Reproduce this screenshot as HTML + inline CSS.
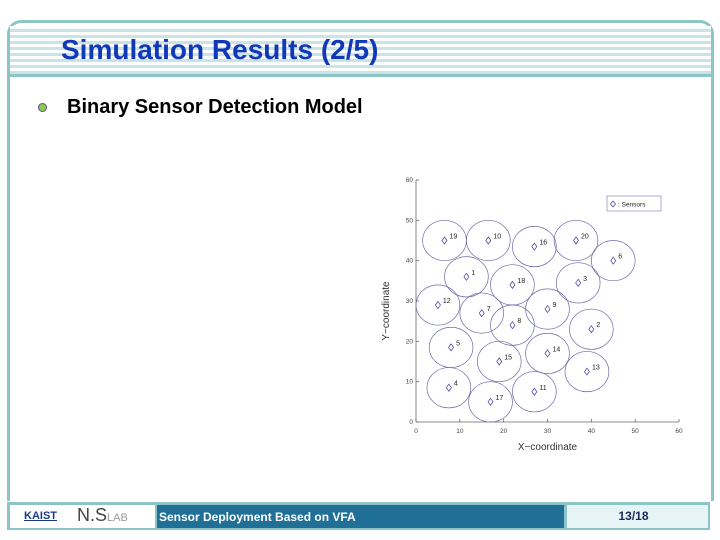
<!DOCTYPE html>
<html><head><meta charset="utf-8"><style>
body{margin:0;width:720px;height:540px;background:#fff;position:relative;overflow:hidden;font-family:"Liberation Sans",sans-serif}
.abs{position:absolute}
</style></head><body>
<div class="abs" style="left:7px;top:20px;width:701px;height:478px;border:3px solid #8cc4c8;border-bottom:none;border-radius:14px 14px 0 0"></div>
<div class="abs" style="left:10px;top:26px;width:701px;height:48px;background:repeating-linear-gradient(#fff 0 3px,#c9e4e6 3px 6px)"></div>
<div class="abs" style="left:10px;top:74px;width:701px;height:3px;background:#8cc4c8"></div>
<div class="abs" style="left:61px;top:34px;font-size:28px;font-weight:bold;color:#1038b8">Simulation Results (2/5)</div>
<div class="abs" style="left:38px;top:103px;width:7px;height:7px;border-radius:50%;background:#8ccc50;border:1px solid #557"></div>
<div class="abs" style="left:67px;top:96px;font-size:20px;font-weight:bold;color:#000">Binary Sensor Detection Model</div>

<svg class="abs" style="left:0;top:0" width="720" height="540">
<g id="chart" font-family="Liberation Sans, sans-serif"></g>
</svg>

<div class="abs" style="left:7px;top:502px;width:703px;height:28px;background:#8cc4c8"></div>
<div class="abs" style="left:10px;top:505px;width:145px;height:23px;background:#fff"></div>
<div class="abs" style="left:24px;top:510px;font-size:11px;font-weight:bold;color:#1a3a8a;text-decoration:underline">KAIST</div>
<div class="abs" style="left:77px;top:505px;font-size:18px;color:#444">N.S<span style="font-size:11px;color:#999">LAB</span></div>
<div class="abs" style="left:157px;top:505px;width:407px;height:23px;background:#1f6f96;color:#fff;font-size:12px;font-weight:bold;line-height:25px;padding-left:2px;box-sizing:border-box">Sensor Deployment Based on VFA</div>
<div class="abs" style="left:567px;top:505px;width:141px;height:23px;background:#e6f4f5;color:#1a2a5a;font-size:12px;font-weight:bold;line-height:23px;text-align:center;box-sizing:border-box;padding-right:8px">13/18</div>

<script>
const sensorIds=[19,10,16,20,6,1,18,3,12,7,9,8,2,5,15,14,13,4,17,11];
const sensorX=[6.5,16.5,27,36.5,45,11.5,22,37,5,15,30,22,40,8,19,30,39,7.5,17,27];
const sensorY=[45,45,43.5,45,40,36,34,34.5,29,27,28,24,23,18.5,15,17,12.5,8.5,5,7.5];
const sensingRadius=5;
const xTicks=[0,10,20,30,40,50,60];
const yTicks=[0,10,20,30,40,50,60];
const NS='http://www.w3.org/2000/svg';
const g=document.getElementById('chart');
const X0=416,X1=679,Y0=422,Y1=180;
const sx=v=>X0+(v/60)*(X1-X0), sy=v=>Y0-(v/60)*(Y0-Y1);
function mk(t,a){const e=document.createElementNS(NS,t);for(const k in a)e.setAttribute(k,a[k]);g.appendChild(e);return e;}
let e=mk('line',{x1:X0,y1:Y0,x2:X1,y2:Y0,stroke:'#666','stroke-width':0.8});


e=mk('line',{x1:X0,y1:Y0,x2:X0,y2:Y1,stroke:'#666','stroke-width':0.8});


xTicks.forEach(v=>{
 e=mk('line',{x1:sx(v),y1:Y0,x2:sx(v),y2:Y0-3,stroke:'#666','stroke-width':0.8});
 
 
 e=mk('text',{x:sx(v),y:Y0+11,'font-size':6.5,'text-anchor':'middle',fill:'#444'});e.textContent=v;
 
 
});
yTicks.forEach(v=>{
 e=mk('line',{x1:X0,y1:sy(v),x2:X0+3,y2:sy(v),stroke:'#666','stroke-width':0.8});
 
 
 e=mk('text',{x:X0-3,y:sy(v)+2,'font-size':6.5,'text-anchor':'end',fill:'#444'});e.textContent=v;
 
 
});
e=mk('text',{x:(X0+X1)/2,y:Y0+28,'font-size':10,'text-anchor':'middle',fill:'#333'});e.textContent='X\u2212coordinate';


e=mk('text',{x:0,y:0,'font-size':10,'text-anchor':'middle',fill:'#333',transform:`translate(389,${(Y0+Y1)/2+10}) rotate(-90)`});e.textContent='Y\u2212coordinate';


const rx=sx(sensingRadius)-sx(0), ry=sy(0)-sy(sensingRadius);
sensorIds.forEach((id,i)=>{
 const cx=sx(sensorX[i]),cy=sy(sensorY[i]);
 e=mk('ellipse',{cx:cx,cy:cy,rx:rx,ry:ry,fill:'none',stroke:'#6a6aa8','stroke-width':0.7});
 
 
 e=mk('path',{d:`M${cx} ${cy-3.5}L${cx+2.5} ${cy}L${cx} ${cy+3.5}L${cx-2.5} ${cy}Z`,fill:'none',stroke:'#3a3aa0','stroke-width':0.7});
 
 
 e=mk('text',{x:cx+5,y:cy-2,'font-size':7,fill:'#222'});e.textContent=id;
 
 
});
e=mk('rect',{x:607,y:196,width:54,height:15,fill:'#fff',stroke:'#8888bb','stroke-width':0.7});


e=mk('path',{d:'M613 201L615.5 204L613 207L610.5 204Z',fill:'none',stroke:'#3a3aa0','stroke-width':0.7});


e=mk('text',{x:618,y:206.5,'font-size':6.5,fill:'#222'});e.textContent=': Sensors';


</script>
</body></html>
